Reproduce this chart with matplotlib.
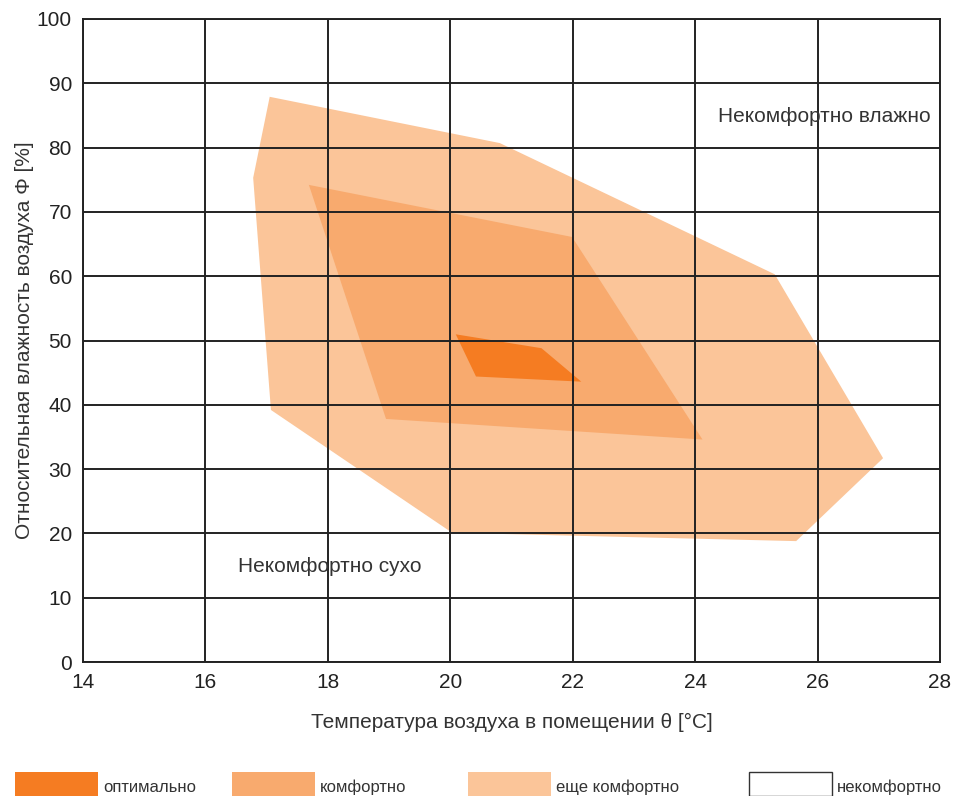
import matplotlib.pyplot as plt
from matplotlib.patches import Polygon, Rectangle

# zone outlines (temperature °C, humidity %)
still_t = [17.05, 20.81, 25.30, 27.07, 25.65, 20.03, 17.07, 16.78]
still_h = [87.9, 80.7, 60.3, 31.7, 18.8, 20.1, 39.2, 75.3]
comfort_t = [17.69, 21.99, 24.12, 18.95]
comfort_h = [74.2, 66.1, 34.6, 37.8]
optimal_t = [20.09, 21.49, 22.14, 20.42]
optimal_h = [50.96, 48.8, 43.6, 44.4]

zone_names = ["оптимально", "комфортно", "еще комфортно", "некомфортно"]
zone_colors = ["#f57c22", "#f8aa6e", "#fbc599", "#ffffff"]

x_ticks = list(range(14, 29, 2))
y_ticks = list(range(0, 101, 10))

plt.rcParams["font.family"] = ["Liberation Sans", "DejaVu Sans"]
text_color = "#333333"

fig = plt.figure(figsize=(9.66, 7.96), dpi=100)
ax = fig.add_axes([83 / 966, 1 - 662 / 796, 857 / 966, 643 / 796])

for ts, hs, color in [(still_t, still_h, zone_colors[2]),
                      (comfort_t, comfort_h, zone_colors[1]),
                      (optimal_t, optimal_h, zone_colors[0])]:
    ax.add_patch(Polygon(list(zip(ts, hs)), closed=True, facecolor=color,
                         edgecolor="none", zorder=1))

ax.set_xlim(14, 28)
ax.set_ylim(0, 100)
ax.set_xticks(x_ticks)
ax.set_yticks(y_ticks)
ax.tick_params(length=0, labelsize=15, colors="#222222", pad=8)
ax.grid(True, color="#222222", linewidth=1.4, zorder=2)
ax.set_axisbelow(False)
for s in ax.spines.values():
    s.set_color("#222222")
    s.set_linewidth(1.4)

ax.set_xlabel("Температура воздуха в помещении θ [°C]", fontsize=15,
              color=text_color, labelpad=15)
ax.set_ylabel("Относительная влажность воздуха Φ [%]", fontsize=15,
              color=text_color, labelpad=2)

ax.text(27.84, 84.8, "Некомфортно влажно", fontsize=15, color=text_color,
        ha="right", va="center", zorder=3)
ax.text(16.53, 14.8, "Некомфортно сухо", fontsize=15, color=text_color,
        ha="left", va="center", zorder=3)

# legend row along the bottom edge
box_x = [15, 232, 468, 749]
for x0, name, color in zip(box_x, zone_names, zone_colors):
    fig.patches.append(Rectangle((x0 / 966, 0), 83 / 966, 24 / 796,
                                 transform=fig.transFigure, facecolor=color,
                                 edgecolor="#333333" if color == "#ffffff" else "none",
                                 linewidth=1))
    fig.text((x0 + 88) / 966, 9 / 796, name, fontsize=12, color=text_color,
             ha="left", va="center")

fig.savefig("out.png", dpi=100)
